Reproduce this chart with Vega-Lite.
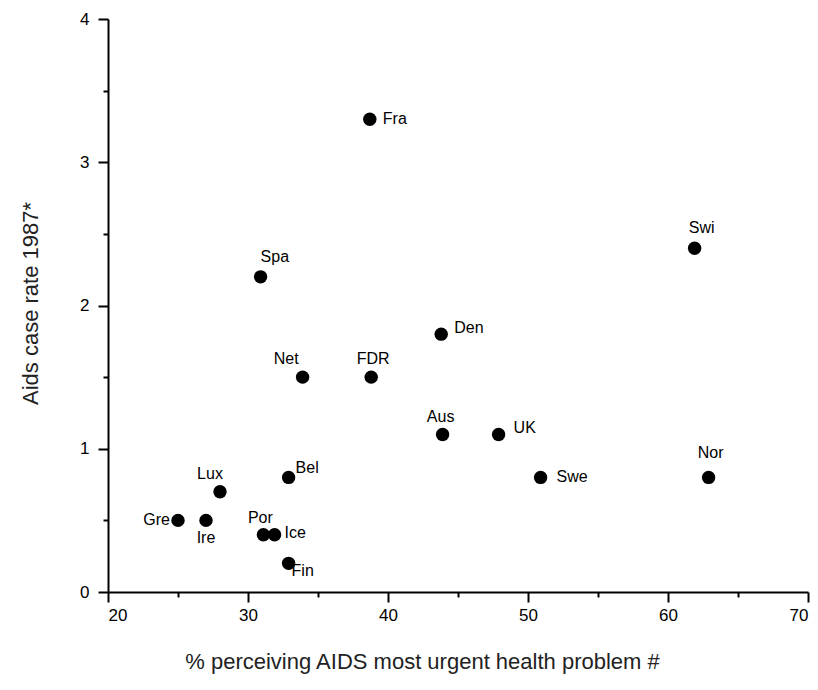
{
  "$schema": "https://vega.github.io/schema/vega-lite/v6.json",
  "width": 700,
  "height": 573,
  "autosize": "none",
  "padding": {"left": 108, "top": 19, "right": 10, "bottom": 98},
  "background": "white",
  "config": {
    "view": {"stroke": null},
    "font": "Liberation Sans",
    "axis": {"grid": false, "domainColor": "black", "tickColor": "black", "labelColor": "black", "domainWidth": 2, "tickWidth": 2, "labelFont": "Liberation Sans", "titleFont": "Liberation Sans", "labelFontSize": 17, "titleFontSize": 22, "titleFontWeight": "normal", "titleColor": "#222"},
    "text": {"font": "Liberation Sans", "fontSize": 16, "color": "black", "baseline": "alphabetic"}
  },
  "data": {"values": [
    {"c": "Fra", "pct": 38.7, "rate": 3.3},
    {"c": "Swi", "pct": 61.9, "rate": 2.4},
    {"c": "Spa", "pct": 30.9, "rate": 2.2},
    {"c": "Den", "pct": 43.8, "rate": 1.8},
    {"c": "Net", "pct": 33.9, "rate": 1.5},
    {"c": "FDR", "pct": 38.8, "rate": 1.5},
    {"c": "Aus", "pct": 43.9, "rate": 1.1},
    {"c": "UK", "pct": 47.9, "rate": 1.1},
    {"c": "Swe", "pct": 50.9, "rate": 0.8},
    {"c": "Nor", "pct": 62.9, "rate": 0.8},
    {"c": "Bel", "pct": 32.9, "rate": 0.8},
    {"c": "Lux", "pct": 28, "rate": 0.7},
    {"c": "Gre", "pct": 25, "rate": 0.5},
    {"c": "Ire", "pct": 27, "rate": 0.5},
    {"c": "Por", "pct": 31.1, "rate": 0.4},
    {"c": "Ice", "pct": 31.9, "rate": 0.4},
    {"c": "Fin", "pct": 32.9, "rate": 0.2}
  ]},
  "encoding": {
    "x": {"field": "pct", "type": "quantitative", "scale": {"domain": [20, 70], "nice": false, "zero": false}, "axis": null},
    "y": {"field": "rate", "type": "quantitative", "scale": {"domain": [0, 4], "nice": false}, "axis": null},
    "text": {"field": "c"}
  },
  "layer": [
    {
      "mark": {"type": "circle", "size": 180, "color": "black", "opacity": 1},
      "encoding": {
        "x": {"field": "pct", "type": "quantitative", "scale": {"domain": [20, 70], "nice": false, "zero": false}, "axis": {"orient": "bottom", "values": [20, 30, 40, 50, 60, 70], "tickSize": 10, "labelPadding": 5, "title": "% perceiving AIDS most urgent health problem #", "titleX": 314, "titleY": 76, "titleAlign": "center", "titleBaseline": "alphabetic"}},
        "y": {"field": "rate", "type": "quantitative", "scale": {"domain": [0, 4], "nice": false}, "axis": {"orient": "left", "values": [0, 1, 2, 3, 4], "tickSize": 10, "labelPadding": 9, "title": "Aids case rate 1987*", "titleX": -71, "titleY": 284, "titleAlign": "center", "titleBaseline": "alphabetic", "titleAngle": 270}}
      }
    },
    {
      "mark": {"type": "circle", "opacity": 0},
      "encoding": {
        "x": {"field": "pct", "type": "quantitative", "scale": {"domain": [20, 70], "nice": false, "zero": false}, "axis": {"orient": "bottom", "values": [25, 35, 45, 55, 65], "tickSize": 5, "labels": false, "domain": false, "title": null}},
        "y": {"field": "rate", "type": "quantitative", "scale": {"domain": [0, 4], "nice": false}, "axis": {"orient": "left", "values": [0.5, 1.5, 2.5, 3.5], "tickSize": 5, "labels": false, "domain": false, "title": null}}
      }
    },
    {"transform": [{"filter": "datum.c === 'Fra'"}], "mark": {"type": "text", "align": "left", "dx": 13, "dy": 5}},
    {"transform": [{"filter": "datum.c === 'Swi'"}], "mark": {"type": "text", "align": "center", "dx": 7, "dy": -15}},
    {"transform": [{"filter": "datum.c === 'Spa'"}], "mark": {"type": "text", "align": "left", "dx": 0, "dy": -15}},
    {"transform": [{"filter": "datum.c === 'Net'"}], "mark": {"type": "text", "align": "right", "dx": -4, "dy": -13}},
    {"transform": [{"filter": "datum.c === 'FDR'"}], "mark": {"type": "text", "align": "center", "dx": 2, "dy": -13}},
    {"transform": [{"filter": "datum.c === 'Den'"}], "mark": {"type": "text", "align": "left", "dx": 13, "dy": -1}},
    {"transform": [{"filter": "datum.c === 'Aus'"}], "mark": {"type": "text", "align": "center", "dx": -2, "dy": -12}},
    {"transform": [{"filter": "datum.c === 'UK'"}], "mark": {"type": "text", "align": "left", "dx": 15, "dy": -1}},
    {"transform": [{"filter": "datum.c === 'Nor'"}], "mark": {"type": "text", "align": "center", "dx": 2, "dy": -19}},
    {"transform": [{"filter": "datum.c === 'Swe'"}], "mark": {"type": "text", "align": "left", "dx": 16, "dy": 5}},
    {"transform": [{"filter": "datum.c === 'Lux'"}], "mark": {"type": "text", "align": "center", "dx": -10, "dy": -13}},
    {"transform": [{"filter": "datum.c === 'Bel'"}], "mark": {"type": "text", "align": "left", "dx": 7, "dy": -4}},
    {"transform": [{"filter": "datum.c === 'Gre'"}], "mark": {"type": "text", "align": "right", "dx": -8, "dy": 5}},
    {"transform": [{"filter": "datum.c === 'Ire'"}], "mark": {"type": "text", "align": "center", "dx": 0, "dy": 23}},
    {"transform": [{"filter": "datum.c === 'Por'"}], "mark": {"type": "text", "align": "center", "dx": -3, "dy": -12}},
    {"transform": [{"filter": "datum.c === 'Ice'"}], "mark": {"type": "text", "align": "left", "dx": 10, "dy": 3}},
    {"transform": [{"filter": "datum.c === 'Fin'"}], "mark": {"type": "text", "align": "left", "dx": 3, "dy": 13}}
  ],
  "resolve": {"axis": {"x": "independent", "y": "independent"}}
}
